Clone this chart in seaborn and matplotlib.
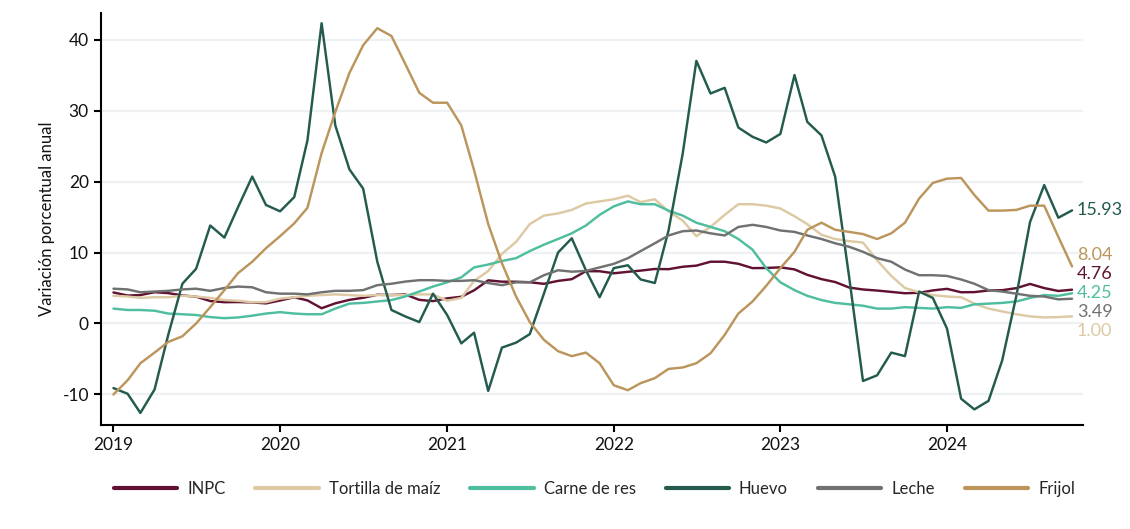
import numpy as np
import pandas as pd
import matplotlib
matplotlib.use("Agg")
import matplotlib.pyplot as plt
import matplotlib.dates as mdates
import seaborn as sns

# Monthly annual % change, Jan 2019 - Oct 2024
fechas = pd.date_range("2019-01-01", periods=70, freq="MS")

inpc = [4.37, 3.94, 4.00, 4.41, 4.28, 3.95, 3.78, 3.16, 3.00, 3.02, 2.97, 2.83,
        3.24, 3.70, 3.25, 2.15, 2.84, 3.33, 3.62, 4.05, 4.01, 4.09, 3.33, 3.15,
        3.54, 3.76, 4.67, 6.08, 5.89, 5.88, 5.81, 5.59, 6.00, 6.24, 7.37, 7.36,
        7.07, 7.28, 7.45, 7.68, 7.65, 7.99, 8.15, 8.70, 8.70, 8.41, 7.80, 7.82,
        7.91, 7.62, 6.85, 6.25, 5.84, 5.06, 4.79, 4.64, 4.45, 4.26, 4.32, 4.66,
        4.88, 4.40, 4.42, 4.65, 4.69, 4.98, 5.57, 4.99, 4.58, 4.76]

tortilla = [3.9, 3.8, 3.6, 3.7, 3.7, 3.9, 3.8, 3.6, 3.3, 3.2, 3.0, 3.0,
            3.5, 3.7, 3.9, 4.0, 4.1, 4.0, 3.9, 4.0, 4.0, 4.0, 4.1, 4.1,
            3.2, 3.6, 6.0, 7.4, 9.8, 11.5, 14.0, 15.2, 15.5, 16.0, 16.9, 17.2,
            17.5, 18.0, 17.1, 17.5, 15.8, 14.5, 12.3, 13.6, 15.3, 16.8, 16.8, 16.6,
            16.2, 15.1, 14.0, 12.5, 11.9, 11.6, 11.4, 8.9, 6.7, 5.0, 4.4, 4.0,
            3.8, 3.7, 2.8, 2.1, 1.7, 1.3, 1.0, 0.85, 0.9, 1.00]

carne = [2.1, 1.9, 1.9, 1.8, 1.4, 1.3, 1.2, 0.9, 0.75, 0.85, 1.1, 1.4,
         1.6, 1.4, 1.3, 1.3, 2.1, 2.8, 2.9, 3.1, 3.3, 3.8, 4.5, 5.2,
         5.8, 6.5, 7.9, 8.3, 8.8, 9.2, 10.2, 11.1, 11.9, 12.7, 13.8, 15.3,
         16.5, 17.2, 16.8, 16.8, 15.9, 15.2, 14.2, 13.6, 13.0, 11.9, 10.4, 7.8,
         5.8, 4.7, 3.9, 3.3, 2.9, 2.7, 2.5, 2.1, 2.1, 2.3, 2.2, 2.1,
         2.3, 2.2, 2.7, 2.8, 2.9, 3.1, 3.6, 4.0, 3.9, 4.25]

huevo = [-9.1, -9.9, -12.6, -9.3, -1.6, 5.6, 7.7, 13.8, 12.1, 16.4, 20.7, 16.7,
         15.8, 17.8, 25.8, 42.3, 27.9, 21.7, 19.0, 8.7, 1.9, 1.0, 0.2, 4.2,
         1.2, -2.8, -1.3, -9.5, -3.4, -2.7, -1.5, 4.2, 10.0, 12.0, 7.5, 3.7,
         7.8, 8.2, 6.2, 5.7, 13.1, 23.9, 37.0, 32.4, 33.2, 27.6, 26.3, 25.5,
         26.7, 35.0, 28.4, 26.5, 20.7, 6.4, -8.1, -7.3, -4.1, -4.6, 4.5, 3.6,
         -0.7, -10.6, -12.1, -10.9, -5.2, 3.9, 14.3, 19.5, 14.9, 15.93]

leche = [4.9, 4.8, 4.4, 4.5, 4.6, 4.8, 4.9, 4.6, 5.0, 5.2, 5.1, 4.4,
         4.2, 4.2, 4.1, 4.4, 4.6, 4.6, 4.7, 5.4, 5.6, 5.9, 6.1, 6.1,
         6.0, 6.0, 6.1, 5.7, 5.4, 5.8, 5.8, 6.8, 7.5, 7.3, 7.4, 7.9,
         8.4, 9.2, 10.2, 11.3, 12.4, 13.0, 13.1, 12.7, 12.4, 13.6, 13.9, 13.6,
         13.1, 12.9, 12.4, 11.9, 11.3, 10.8, 10.1, 9.2, 8.7, 7.6, 6.8, 6.8,
         6.7, 6.2, 5.6, 4.7, 4.5, 4.2, 3.9, 3.8, 3.4, 3.49]

frijol = [-10.0, -8.0, -5.6, -4.1, -2.6, -1.8, 0.0, 2.3, 4.7, 7.1, 8.7, 10.6,
          12.3, 14.1, 16.3, 24.0, 29.8, 35.3, 39.2, 41.6, 40.5, 36.6, 32.5, 31.1,
          31.1, 27.9, 21.6, 14.0, 8.5, 3.8, 0.2, -2.3, -3.9, -4.6, -4.1, -5.6,
          -8.7, -9.4, -8.4, -7.7, -6.4, -6.2, -5.6, -4.2, -1.6, 1.4, 3.1, 5.3,
          7.8, 10.1, 13.2, 14.2, 13.2, 12.9, 12.6, 11.9, 12.7, 14.2, 17.6, 19.8,
          20.4, 20.5, 18.1, 15.9, 15.9, 16.0, 16.6, 16.6, 12.2, 8.04]

series = ["INPC", "Tortilla de maíz", "Carne de res", "Huevo", "Leche", "Frijol"]
valores = [inpc, tortilla, carne, huevo, leche, frijol]
colores = ["#611232", "#ddc9a3", "#4fbd9f", "#235b4e", "#6f7271", "#bc955c"]
paleta = dict(zip(series, colores))

df = pd.concat(
    [pd.DataFrame({"fecha": fechas, "valor": v, "serie": s}) for s, v in zip(series, valores)],
    ignore_index=True,
)

sns.set_theme(style="white")
plt.rcParams["font.family"] = ["Lato", "DejaVu Sans"]
plt.rcParams["axes.unicode_minus"] = False

fig = plt.figure(figsize=(11.3, 5.29), dpi=100)
ax = fig.add_axes([0.0891, 0.1966, 0.8693, 0.7783])

sns.lineplot(data=df, x="fecha", y="valor", hue="serie", hue_order=series,
             palette=paleta, linewidth=1.75, ax=ax)

ax.set_ylim(-14.3, 43.7)
ax.set_xlim(pd.Timestamp("2018-12-04"), pd.Timestamp("2024-10-25"))
ax.set_yticks([-10, 0, 10, 20, 30, 40])
ax.xaxis.set_major_locator(mdates.YearLocator())
ax.xaxis.set_major_formatter(mdates.DateFormatter("%Y"))

ax.yaxis.grid(True, color="#edf1f4", linewidth=1.6)
ax.xaxis.grid(False)
ax.set_axisbelow(True)
for side in ("top", "right"):
    ax.spines[side].set_visible(False)
for side in ("left", "bottom"):
    ax.spines[side].set_color("black")
    ax.spines[side].set_linewidth(1.5)
ax.tick_params(axis="both", which="major", length=5, width=1.5, color="black",
               labelsize=12.5, labelcolor="#111111", pad=3.5, left=True, bottom=True)
ax.set_xlabel("")
ax.set_ylabel("Variación porcentual anual", fontsize=12, color="#111111", labelpad=5)

# End-of-series value labels, spread apart so they do not overlap
ultimos = [v[-1] for v in valores]
orden = np.argsort(ultimos)[::-1]
gap = 2.7
grupos = [[i] for i in orden]
pos = {i: ultimos[i] for i in orden}

def colocar(grupo):
    centro = np.mean([ultimos[i] for i in grupo])
    n = len(grupo)
    for k, i in enumerate(grupo):
        pos[i] = centro + gap * ((n - 1) / 2 - k)

cambio = True
while cambio:
    cambio = False
    for g in range(len(grupos) - 1):
        a, b = grupos[g], grupos[g + 1]
        if pos[a[-1]] - pos[b[0]] < gap:
            grupos[g] = a + b
            del grupos[g + 1]
            colocar(grupos[g])
            cambio = True
            break

for i, s in enumerate(series):
    ax.annotate(f"{ultimos[i]:.2f}", xy=(fechas[-1], pos[i]), xytext=(3.5, 0),
                textcoords="offset points", va="center", ha="left",
                fontsize=13, color=colores[i], annotation_clip=False)

handles, labels = ax.get_legend_handles_labels()
ax.get_legend().remove()
for h in handles:
    h.set_linewidth(3)
fig.legend(handles, labels, loc="center", bbox_to_anchor=(0.526, 0.0756), ncol=6,
           frameon=False, fontsize=12, handlelength=3.8, handletextpad=0.6,
           columnspacing=1.8)

fig.savefig("out.png", dpi=100)
